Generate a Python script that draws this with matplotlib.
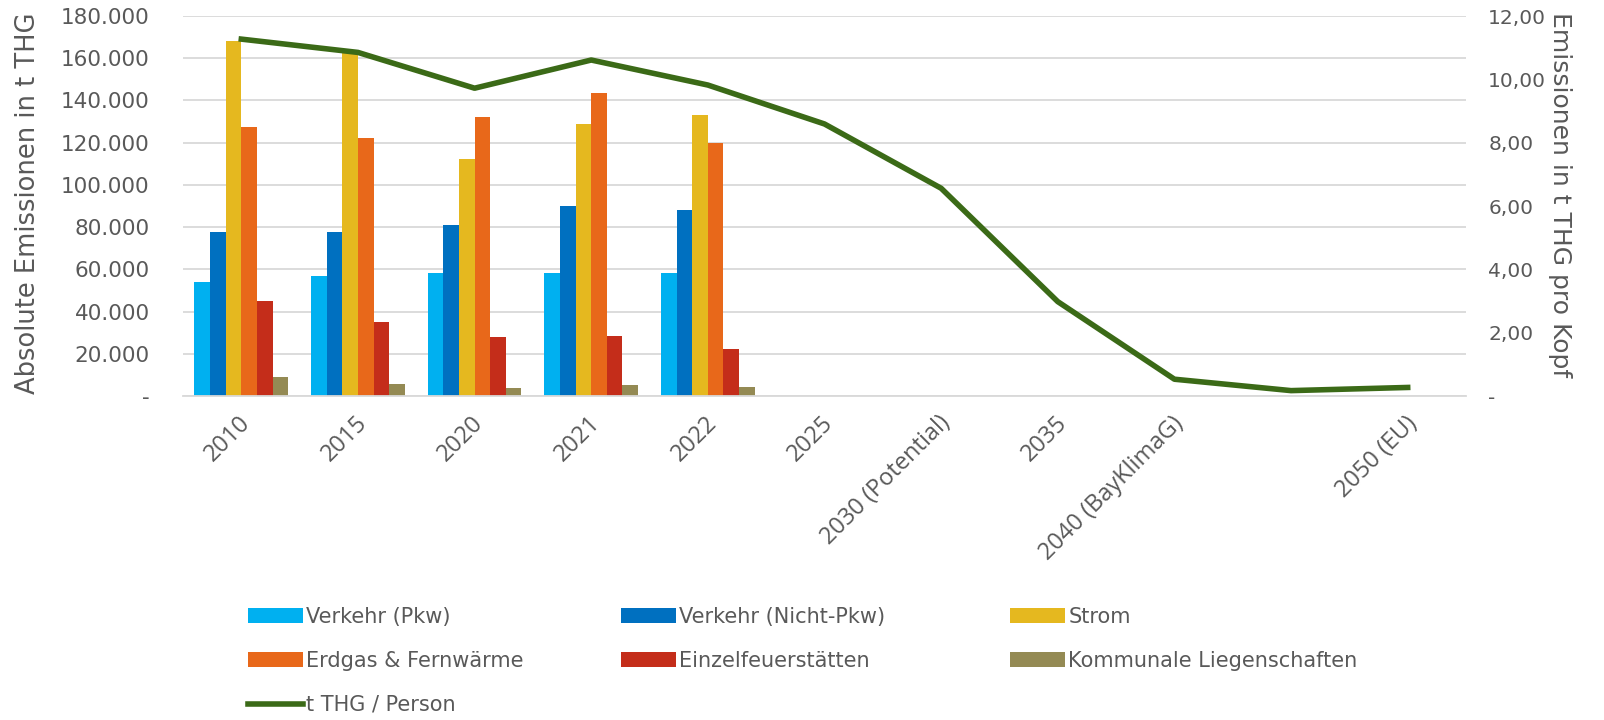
import matplotlib.pyplot as plt
import matplotlib.ticker as mticker
import matplotlib.transforms as mtrans
import numpy as np

# Kategorien (die vorletzte hat keine Beschriftung)
jahre = ['2010', '2015', '2020', '2021', '2022', '2025', '2030 (Potential)',
         '2035', '2040 (BayKlimaG)', '', '2050 (EU)']

# absolute Emissionen in t THG (nur 2010 - 2022 vorhanden)
verkehr_pkw = [54100, 57000, 58400, 58400, 58400]
verkehr_nicht_pkw = [77800, 77800, 81000, 90100, 88100]
strom = [168300, 164000, 112300, 128800, 133000]
erdgas_fernwaerme = [127600, 122000, 132300, 143400, 120000]
einzelfeuerstaetten = [45100, 34900, 27800, 28600, 22400]
kommunale = [9100, 5700, 4000, 5200, 4400]

# t THG pro Kopf
thg_person = [11.27, 10.85, 9.72, 10.61, 9.82, 8.59, 6.56, 2.98, 0.53, 0.17, 0.27]

reihen = [
    ('Verkehr (Pkw)', verkehr_pkw, '#00B0F0'),
    ('Verkehr (Nicht-Pkw)', verkehr_nicht_pkw, '#0070C0'),
    ('Strom', strom, '#E5B81F'),
    ('Erdgas & Fernwärme', erdgas_fernwaerme, '#E8681A'),
    ('Einzelfeuerstätten', einzelfeuerstaetten, '#C42D1A'),
    ('Kommunale Liegenschaften', kommunale, '#948A54'),
]

grau = '#595959'

fig = plt.figure(figsize=(16.04, 7.2), dpi=100)
ax = fig.add_axes([183 / 1604, 1 - 396 / 720, 1283 / 1604, 380 / 720])

breite = 0.134
handles = []
for i, (name, werte, farbe) in enumerate(reihen):
    x = np.arange(len(werte)) + (i - 2.5) * breite
    h = ax.bar(x, werte, width=breite, color=farbe, label=name, zorder=2)
    handles.append(h)

ax.set_xlim(-0.5, len(jahre) - 0.5)
ax.set_ylim(0, 180000)
ax.set_yticks(np.arange(0, 180001, 20000))
ax.yaxis.set_major_formatter(mticker.FuncFormatter(
    lambda v, p: '-' if v == 0 else f'{int(v):,}'.replace(',', '.')))
ax.grid(axis='y', color='#D9D9D9', linewidth=1.3, zorder=0)
ax.set_axisbelow(True)
for s in ['top', 'left', 'right']:
    ax.spines[s].set_visible(False)
ax.spines['bottom'].set_color('#D9D9D9')
ax.spines['bottom'].set_linewidth(1.3)
ax.tick_params(axis='both', length=0, colors=grau)
ax.tick_params(axis='y', pad=24, labelsize=15.5)

ax.set_xticks(range(len(jahre)))
ax.set_xticklabels(jahre, rotation=45, ha='right', rotation_mode='anchor',
                   fontsize=17, family='Open Sans', color=grau)
ax.tick_params(axis='x', pad=11)
# Beschriftungen leicht verschieben
versatz = mtrans.ScaledTranslation(-0.03, 0, fig.dpi_scale_trans)
for lab in ax.get_xticklabels():
    lab.set_transform(lab.get_transform() + versatz)

ax.set_ylabel('Absolute Emissionen in t THG', fontsize=18.5, color=grau)
ax.yaxis.set_label_coords(-0.111, 0.508)

# zweite Achse für die Pro-Kopf-Emissionen
ax2 = ax.twinx()
linie, = ax2.plot(range(len(jahre)), thg_person, color='#3B6A17', linewidth=4,
                  label='t THG / Person', solid_joinstyle='round', zorder=3)
ax2.set_ylim(0, 12)
ax2.set_yticks(np.arange(0, 12.01, 2))
ax2.yaxis.set_major_formatter(mticker.FuncFormatter(
    lambda v, p: '-' if v == 0 else f'{v:.2f}'.replace('.', ',')))
for s in ax2.spines.values():
    s.set_visible(False)
ax2.tick_params(axis='y', length=0, colors=grau, labelsize=14.5, pad=16)
ax2.set_ylabel('Emissionen in t THG pro Kopf', fontsize=18, color=grau,
               rotation=270, va='center')
ax2.yaxis.set_label_coords(1.073, 0.53)

# Legende in drei Spalten (zeilenweise wie im Original)
spalten = [
    (248, [handles[0], handles[3], linie]),
    (621, [handles[1], handles[4]]),
    (1010, [handles[2], handles[5]]),
]
for x0, hs in spalten:
    leg = fig.legend(handles=hs, labels=[h.get_label() for h in hs],
                     loc='upper left', bbox_to_anchor=(x0 / 1604, 1 - 607 / 720),
                     frameon=False, handlelength=2.65, handleheight=0.7,
                     handletextpad=0.15, labelspacing=1.15,
                     borderpad=0, borderaxespad=0,
                     prop={'family': 'DejaVu Sans', 'size': 15})
    for t in leg.get_texts():
        t.set_color(grau)

plt.savefig('out.png', dpi=100)
